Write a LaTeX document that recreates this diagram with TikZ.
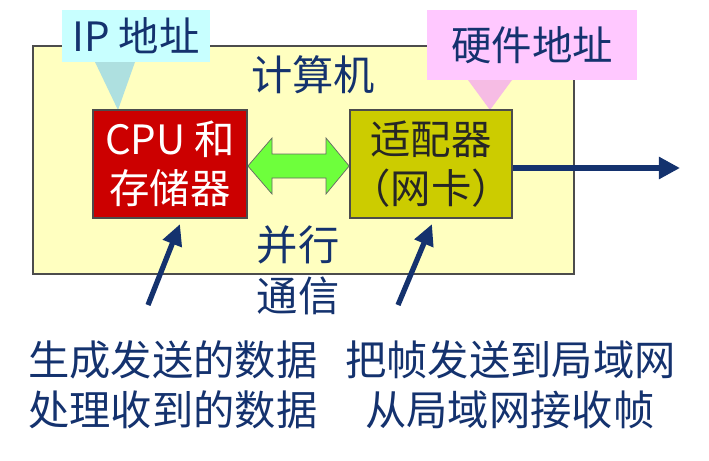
\documentclass[tikz,border=0pt]{standalone}
\usepackage{fontspec}
\setmainfont{Noto Sans CJK SC}
\usetikzlibrary{arrows.meta}
\definecolor{navy}{RGB}{20,50,110}
\definecolor{pale}{RGB}{255,255,192}
\definecolor{cpured}{RGB}{204,0,0}
\definecolor{olive}{RGB}{204,204,0}
\definecolor{tipcyan}{RGB}{200,255,255}
\definecolor{tippink}{RGB}{255,200,255}
\definecolor{arrgreen}{RGB}{110,255,60}
\begin{document}
\begin{tikzpicture}[x=0.02cm,y=-0.02cm,
  txt/.style={font=\fontsize{23.5}{29}\selectfont,text=navy,align=center,inner sep=0pt},
  unit box/.style={draw=black!70,line width=1pt,minimum width=154*0.02cm,minimum height=108*0.02cm,align=center,font=\fontsize{23}{28}\selectfont,inner sep=0pt},
  tip box/.style={inner sep=0pt,font=\fontsize{23}{28}\selectfont,text=navy}]
  \useasboundingbox (0,0) rectangle (709,460);

  % computer
  \node[draw=black!70,line width=1pt,fill=pale,minimum width=541*0.02cm,minimum height=228*0.02cm,anchor=north west] (pc) at (32,45) {};
  \node[txt] (pclabel) at (313,75) {计算机};

  % callouts
  \fill[tipcyan!60!teal!60] (95,62) -- (135,62) -- (118,110) -- cycle;
  \node[tip box,fill=tipcyan,minimum width=148*0.02cm,minimum height=52*0.02cm] (ip) at (136,36) {IP 地址};
  \fill[tippink!80!purple!70] (468,80) -- (512,80) -- (490,110) -- cycle;
  \node[tip box,fill=tippink,minimum width=210*0.02cm,minimum height=70*0.02cm] (hw) at (532,45) {硬件地址};

  % units
  \node[unit box,fill=cpured,text=white] (cpu) at (170,164) {CPU 和\\存储器};
  \node[unit box,fill=olive,text=black!85,minimum width=162*0.02cm] (nic) at (431,164) {适配器\\（网卡）};

  % bus arrow
  \draw[black!60,fill=arrgreen] (cpu.east |- 0,166) -- (272,138) -- (272,154) -- (326,154) -- (326,138)
    -- (nic.west |- 0,166) -- (326,194) -- (326,178) -- (272,178) -- (272,194) -- cycle;
  \coordinate (out) at (680,168);
  \draw[navy,line width=3pt,-{Triangle[length=12pt,width=12pt]}] (nic.east |- out) -- (out);

  \node[txt] (par) at (298,270) {并行\\通信};

  % notes
  \node[txt,anchor=west] (l1) at (28,360) {生成发送的数据};
  \node[txt,anchor=west] (l2) at (28,410) {处理收到的数据};
  \node[txt,anchor=west] (r1) at (345,360) {把帧发送到局域网};
  \node[txt,anchor=west] (r2) at (365,410) {从局域网接收帧};
  \coordinate (a1) at (148,305);
  \coordinate (a2) at (398,305);
  \draw[navy,line width=3pt,-{Triangle[length=12pt,width=11pt]}] (a1) -- (180,224);
  \draw[navy,line width=3pt,-{Triangle[length=12pt,width=11pt]}] (a2) -- (432,224);
\end{tikzpicture}
\end{document}
